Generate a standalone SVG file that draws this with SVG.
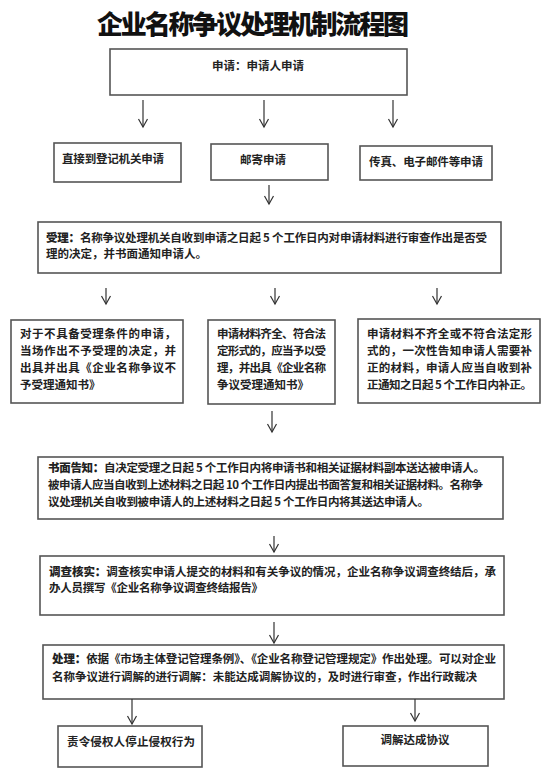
<svg xmlns="http://www.w3.org/2000/svg" width="554" height="773" viewBox="0 0 554 773">
<defs>
<marker id="ah" markerUnits="userSpaceOnUse" markerWidth="12" markerHeight="12" refX="8" refY="4.5" orient="auto" overflow="visible">
<path d="M0,0 L8,4.5 L0,9" fill="none" stroke="#333" stroke-width="1.2"/>
</marker>
<style>
.box{fill:#fff;stroke:#555;stroke-width:1.6}
.t{font-family:"Noto Sans CJK SC","Noto Sans CJK TC",sans-serif;font-size:11.5px;fill:#222;font-weight:700;dominant-baseline:central}
.c{text-anchor:middle}
.b{font-weight:900}
.title{font-family:"Noto Sans CJK SC",sans-serif;font-size:26px;font-weight:900;fill:#111;text-anchor:middle;dominant-baseline:central}
.cn line{stroke:#333;stroke-width:1.2;marker-end:url(#ah)}
</style>
</defs>
<rect width="554" height="773" fill="#fff"/>
<text class="title" x="253" y="22" textLength="312">企业名称争议处理机制流程图</text>

<g id="n-apply"><rect class="box" x="110" y="49" width="297" height="46"/><text class="t c" x="258" y="65">申请：申请人申请</text></g>
<g id="n-direct"><rect class="box" x="54" y="143" width="127" height="39"/><text class="t" x="62" y="158" textLength="102">直接到登记机关申请</text></g>
<g id="n-mail"><rect class="box" x="211" y="144" width="117" height="36"/><text class="t c" x="263" y="159">邮寄申请</text></g>
<g id="n-fax"><rect class="box" x="360" y="146" width="132" height="34"/><text class="t" x="369" y="161" textLength="114">传真、电子邮件等申请</text></g>

<g id="n-accept"><rect class="box" x="38" y="222" width="463" height="51"/>
<text class="t" x="46" y="237" textLength="441"><tspan class="b">受理：</tspan>名称争议处理机关自收到申请之日起 5 个工作日内对申请材料进行审查作出是否受</text>
<text class="t" x="46" y="253">理的决定，并书面通知申请人。</text></g>

<g id="n-reject"><rect class="box" x="11" y="320" width="172" height="83"/>
<text class="t" x="20" y="333" textLength="156">对于不具备受理条件的申请，</text>
<text class="t" x="20" y="350" textLength="156">当场作出不予受理的决定，并</text>
<text class="t" x="20" y="367" textLength="156">出具并出具《企业名称争议不</text>
<text class="t" x="20" y="384">予受理通知书》</text></g>

<g id="n-ok"><rect class="box" x="208" y="320" width="127" height="84"/>
<text class="t" x="217" y="333" textLength="109">申请材料齐全、符合法</text>
<text class="t" x="217" y="350" textLength="109">定形式的，应当予以受</text>
<text class="t" x="217" y="367" textLength="109">理，并出具《企业名称</text>
<text class="t" x="217" y="384">争议受理通知书》</text></g>

<g id="n-fix"><rect class="box" x="358" y="319" width="182" height="84"/>
<text class="t" x="367" y="333" textLength="165">申请材料不齐全或不符合法定形</text>
<text class="t" x="367" y="350" textLength="165">式的，一次性告知申请人需要补</text>
<text class="t" x="367" y="367" textLength="165">正的材料，申请人应当自收到补</text>
<text class="t" x="367" y="384" textLength="165">正通知之日起 5 个工作日内补正。</text></g>

<g id="n-notice"><rect class="box" x="38" y="457" width="465" height="62"/>
<text class="t" x="48" y="467" textLength="437"><tspan class="b">书面告知：</tspan>自决定受理之日起 5 个工作日内将申请书和相关证据材料副本送达被申请人。</text>
<text class="t" x="48" y="484" textLength="435">被申请人应当自收到上述材料之日起 10 个工作日内提出书面答复和相关证据材料。名称争</text>
<text class="t" x="48" y="501" textLength="381">议处理机关自收到被申请人的上述材料之日起 5 个工作日内将其送达申请人。</text></g>

<g id="n-investigate"><rect class="box" x="40" y="556" width="464" height="59"/>
<text class="t" x="49" y="571" textLength="447"><tspan class="b">调查核实：</tspan>调查核实申请人提交的材料和有关争议的情况，企业名称争议调查终结后，承</text>
<text class="t" x="49" y="587" textLength="214">办人员撰写《企业名称争议调查终结报告》</text></g>

<g id="n-handle"><rect class="box" x="43" y="645" width="461" height="54"/>
<text class="t" x="52" y="658" textLength="444"><tspan class="b">处理：</tspan>依据《市场主体登记管理条例》、《企业名称登记管理规定》作出处理。可以对企业</text>
<text class="t" x="52" y="676" textLength="425">名称争议进行调解的进行调解：未能达成调解协议的，及时进行审查，作出行政裁决</text></g>

<g id="n-stop"><rect class="box" x="58" y="726" width="144" height="41"/><text class="t" x="67" y="741" textLength="128">责令侵权人停止侵权行为</text></g>
<g id="n-agree"><rect class="box" x="343" y="726" width="145" height="40"/><text class="t c" x="415" y="739">调解达成协议</text></g>

<g id="connectors" class="cn">
<line x1="143" y1="100" x2="143" y2="127"/>
<line x1="264" y1="100" x2="264" y2="127"/>
<line x1="393" y1="100" x2="393" y2="127"/>
<line x1="269" y1="185" x2="269" y2="204"/>
<line x1="106" y1="288" x2="106" y2="304"/>
<line x1="275" y1="288" x2="275" y2="304"/>
<line x1="437" y1="288" x2="437" y2="304"/>
<line x1="272" y1="411" x2="272" y2="432"/>
<line x1="274" y1="536" x2="274" y2="552"/>
<line x1="274" y1="622" x2="274" y2="643"/>
<line x1="132" y1="699" x2="132" y2="724"/>
<line x1="415" y1="699" x2="415" y2="721"/>
</g>
</svg>
